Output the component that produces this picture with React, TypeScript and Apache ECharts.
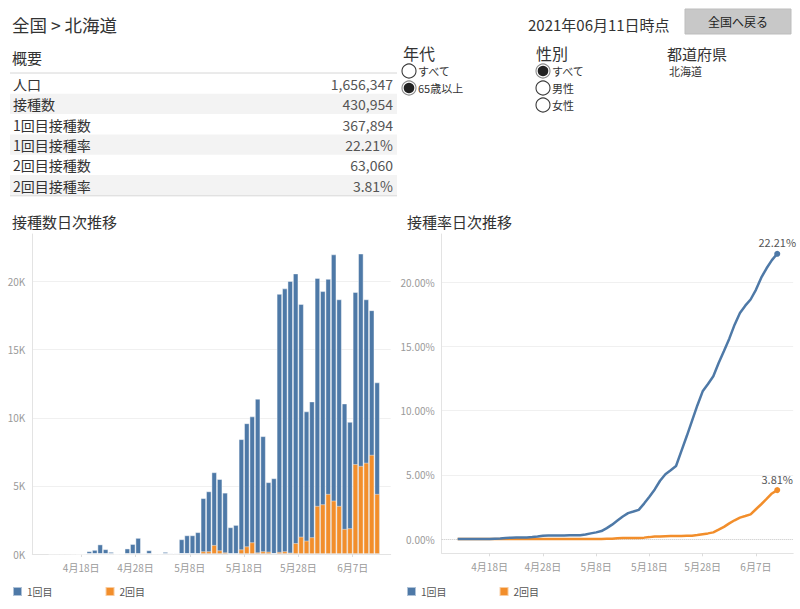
import React, { useEffect, useRef } from 'react';
import * as echarts from 'echarts';

// ---------------- data ----------------
const dates = [
  '2021-04-12','2021-04-13','2021-04-14','2021-04-15','2021-04-16','2021-04-17','2021-04-18',
  '2021-04-19','2021-04-20','2021-04-21','2021-04-22','2021-04-23','2021-04-24','2021-04-25',
  '2021-04-26','2021-04-27','2021-04-28','2021-04-29','2021-04-30','2021-05-01','2021-05-02',
  '2021-05-03','2021-05-04','2021-05-05','2021-05-06','2021-05-07','2021-05-08','2021-05-09',
  '2021-05-10','2021-05-11','2021-05-12','2021-05-13','2021-05-14','2021-05-15','2021-05-16',
  '2021-05-17','2021-05-18','2021-05-19','2021-05-20','2021-05-21','2021-05-22','2021-05-23',
  '2021-05-24','2021-05-25','2021-05-26','2021-05-27','2021-05-28','2021-05-29','2021-05-30',
  '2021-05-31','2021-06-01','2021-06-02','2021-06-03','2021-06-04','2021-06-05','2021-06-06',
  '2021-06-07','2021-06-08','2021-06-09','2021-06-10','2021-06-11',
];

// daily first doses (1回目)
const dose1Daily = [
  50, 60, 60, 60, 20, 0, 0,
  200, 300, 700, 350, 150, 0, 0,
  400, 730, 1180, 70, 270, 20, 20,
  150, 70, 70, 1020, 1340, 1340, 1580,
  3900, 4400, 5340, 5230, 4380, 1960, 2130,
  8090, 9040, 9240, 11280, 8450, 5100, 5510,
  18950, 19300, 19950, 19800, 17090, 9490, 9970,
  16740, 15650, 15790, 18080, 15170, 9210, 7810,
  12640, 15590, 12000, 10620, 8190,
];

// daily second doses (2回目)
const dose2Daily = [
  0, 0, 0, 0, 0, 0, 0,
  0, 0, 0, 0, 0, 0, 0,
  0, 0, 0, 0, 0, 0, 0,
  0, 0, 0, 60, 30, 30, 20,
  200, 200, 660, 270, 120, 0, 0,
  340, 560, 860, 120, 200, 170, 50,
  150, 200, 100, 800, 1270, 980, 1230,
  3530, 3650, 4410, 3920, 3530, 1840, 1890,
  6600, 6470, 6700, 7280, 4410,
];

// cumulative rate (%) 1回目
const rate1Cum = [
  0.00, 0.01, 0.01, 0.01, 0.01, 0.01, 0.01,
  0.03, 0.05, 0.09, 0.11, 0.12, 0.12, 0.12,
  0.15, 0.19, 0.26, 0.27, 0.28, 0.28, 0.28,
  0.29, 0.29, 0.30, 0.35, 0.44, 0.52, 0.62,
  0.85, 1.12, 1.44, 1.76, 2.02, 2.14, 2.27,
  2.76, 3.30, 3.86, 4.54, 5.05, 5.36, 5.69,
  6.84, 8.00, 9.20, 10.40, 11.50, 12.07, 12.67,
  13.70, 14.64, 15.60, 16.69, 17.60, 18.17, 18.65,
  19.40, 20.35, 21.08, 21.72, 22.21,
];

// cumulative rate (%) 2回目
const rate2Cum = [
  0.00, 0.00, 0.00, 0.00, 0.00, 0.00, 0.00,
  0.00, 0.00, 0.00, 0.00, 0.00, 0.00, 0.00,
  0.00, 0.00, 0.00, 0.00, 0.00, 0.00, 0.00,
  0.00, 0.00, 0.00, 0.00, 0.01, 0.01, 0.01,
  0.02, 0.03, 0.07, 0.08, 0.09, 0.09, 0.09,
  0.11, 0.15, 0.20, 0.20, 0.22, 0.23, 0.23,
  0.24, 0.25, 0.26, 0.31, 0.38, 0.44, 0.52,
  0.73, 0.95, 1.22, 1.46, 1.67, 1.79, 1.92,
  2.32, 2.71, 3.12, 3.55, 3.81,
];

const xTickDates = ['2021-04-18', '2021-04-28', '2021-05-08', '2021-05-18', '2021-05-28', '2021-06-07'];
const axisStartDate = '2021-04-09';
const axisEndDate = '2021-06-14';
const countTicks = [0, 5000, 10000, 15000, 20000];
const rateTicks = [0, 5, 10, 15, 20];
const rateGridTicks = [5, 10, 15, 20];

const summaryLabels = ['人口', '接種数', '1回目接種数', '1回目接種率', '2回目接種数', '2回目接種率'];
const summaryValues = ['1,656,347', '430,954', '367,894', '22.21%', '63,060', '3.81%'];

const seriesNames = ['1回目', '2回目'];

// ---------------- helpers ----------------
const FONT = '"Noto Sans CJK JP", "Noto Sans", sans-serif';
const BLUE = '#4e79a7';
const ORANGE = '#f28e2b';
const HALF_DAY = 12 * 3600 * 1000;

function ts(s: string): number {
  const [y, m, d] = s.split('-').map(Number);
  return new Date(y, m - 1, d).getTime();
}
function fmtDate(v: number): string {
  const d = new Date(v);
  return `${d.getMonth() + 1}月${d.getDate()}日`;
}

function txt(x: number, y: number, text: string, size: number, fill: string, align = 'left') {
  return {
    type: 'text',
    x,
    y,
    silent: true,
    style: { text, fontSize: size, fontFamily: FONT, fill, align, verticalAlign: 'middle' },
  };
}

function radio(cx: number, cy: number, selected: boolean) {
  const els: any[] = [
    {
      type: 'circle',
      shape: { cx, cy, r: 7 },
      silent: true,
      style: { fill: '#fff', stroke: selected ? '#8a8a8a' : '#3a3a3a', lineWidth: 1.1 },
    },
  ];
  if (selected) {
    els.push({ type: 'circle', shape: { cx, cy, r: 5.3 }, silent: true, style: { fill: '#222' } });
  }
  return els;
}

function buildGraphics() {
  const g: any[] = [];
  // header
  g.push(txt(12, 24, '全国 > 北海道', 17.5, '#333'));
  g.push(txt(528, 24, '2021年06月11日時点', 15, '#333'));
  g.push({
    type: 'rect',
    shape: { x: 685, y: 9, width: 106, height: 25 },
    silent: true,
    style: { fill: '#c8c8c8', stroke: '#bdbdbd', lineWidth: 1 },
  });
  g.push(txt(738, 21.5, '全国へ戻る', 12, '#222', 'center'));

  // summary table
  g.push(txt(12, 57, '概要', 15, '#333'));
  const rowTop = 73.5;
  const rowH = 20.3;
  summaryLabels.forEach((lab, i) => {
    const y0 = rowTop + i * rowH;
    if (i % 2 === 1) {
      g.push({
        type: 'rect',
        shape: { x: 10, y: y0, width: 387, height: rowH },
        silent: true,
        style: { fill: '#f3f3f3' },
      });
    }
    g.push(txt(13, y0 + rowH / 2 + 0.5, lab, 14, '#333'));
    g.push(txt(393, y0 + rowH / 2 + 0.5, summaryValues[i], 14, '#555', 'right'));
  });
  g.push({
    type: 'line',
    shape: { x1: 10, y1: 73, x2: 397, y2: 73 },
    silent: true,
    style: { stroke: '#d6d6d6', lineWidth: 1 },
  });
  g.push({
    type: 'line',
    shape: { x1: 10, y1: rowTop + 6 * rowH + 0.5, x2: 397, y2: rowTop + 6 * rowH + 0.5 },
    silent: true,
    style: { stroke: '#d6d6d6', lineWidth: 1 },
  });

  // filters
  g.push(txt(403, 53, '年代', 16, '#333'));
  g.push(...radio(409, 71, false));
  g.push(txt(418, 71, 'すべて', 11, '#333'));
  g.push(...radio(409, 88, true));
  g.push(txt(418, 88, '65歳以上', 11, '#333'));

  g.push(txt(536, 53, '性別', 16, '#333'));
  g.push(...radio(543, 71, true));
  g.push(txt(552, 71, 'すべて', 11, '#333'));
  g.push(...radio(543, 88, false));
  g.push(txt(552, 88, '男性', 11, '#333'));
  g.push(...radio(543, 105, false));
  g.push(txt(552, 105, '女性', 11, '#333'));

  g.push(txt(667, 53, '都道府県', 15, '#333'));
  g.push(txt(669, 71, '北海道', 11, '#333'));

  // chart titles
  g.push(txt(12, 221, '接種数日次推移', 15, '#333'));
  g.push(txt(407, 221, '接種率日次推移', 15, '#333'));
  return g;
}

function buildOption() {
  const xTicks = xTickDates.map(ts);
  const n = dates.length;
  const labelStyle = { color: '#9a9a9a', fontSize: 10, fontFamily: FONT };

  const xAxisCommon = (gridIndex: number) => ({
    type: 'value',
    gridIndex,
    min: ts(axisStartDate),
    max: ts(axisEndDate),
    axisLine: { show: true, onZero: false, lineStyle: { color: '#e3e3e3', width: 1 } },
    axisTick: { show: true, customValues: xTicks, length: 3, lineStyle: { color: '#dcdcdc' } },
    axisLabel: { ...labelStyle, customValues: xTicks, formatter: (v: number) => fmtDate(v), margin: 8 },
    splitLine: { show: false },
  });

  const lastLabel = (v: number) => ({
    show: true,
    position: 'top',
    distance: 3,
    formatter: v.toFixed(2) + '%',
    fontSize: 11,
    color: '#555',
    fontFamily: FONT,
  });

  const lineData = (arr: number[]) =>
    dates.map((d, i) =>
      i === n - 1
        ? { value: [ts(d), arr[i]], label: lastLabel(arr[i]) }
        : { value: [ts(d), arr[i]] }
    );

  // stacked appearance: the 1回目 bar is drawn from 0 up to the day's total,
  // and the 2回目 bar (0 .. dose2) is drawn on top of it in the same slot.
  const barStyle = (color: string) => ({
    color,
    borderColor: 'rgba(255,255,255,0.55)',
    borderWidth: 0.8,
  });

  return {
    animation: false,
    backgroundColor: '#ffffff',
    textStyle: { fontFamily: FONT },
    graphic: buildGraphics(),
    grid: [
      { left: 32.3, right: 409.3, top: 234, bottom: 55, containLabel: false },
      { left: 441.7, right: 6.8, top: 234, bottom: 55.7, containLabel: false },
    ],
    legend: [0, 1].map((k) => ({
      left: k === 0 ? 12 : 406,
      top: 586,
      padding: 0,
      data: seriesNames,
      icon: 'rect',
      itemWidth: 9,
      itemHeight: 9,
      itemGap: 52,
      selectedMode: false,
      textStyle: { fontSize: 10, color: '#555', fontFamily: FONT },
    })),
    xAxis: [xAxisCommon(0), xAxisCommon(1)],
    yAxis: [
      {
        type: 'value',
        gridIndex: 0,
        min: 0,
        max: 23500,
        axisLine: { show: true, lineStyle: { color: '#e3e3e3' } },
        axisTick: { show: false, customValues: countTicks },
        axisLabel: { ...labelStyle, customValues: countTicks, formatter: (v: number) => v / 1000 + 'K', margin: 7 },
        splitLine: { show: true, lineStyle: { color: '#f0f0f0', width: 1 } },
      },
      {
        type: 'value',
        gridIndex: 1,
        min: -1.11,
        max: 23.75,
        axisLine: { show: true, lineStyle: { color: '#e3e3e3' } },
        axisTick: { show: false, customValues: rateGridTicks },
        axisLabel: { ...labelStyle, customValues: rateTicks, formatter: (v: number) => v.toFixed(2) + '%', margin: 7 },
        splitLine: { show: true, lineStyle: { color: '#f0f0f0', width: 1 } },
      },
    ],
    series: [
      {
        name: seriesNames[0],
        type: 'bar',
        xAxisIndex: 0,
        yAxisIndex: 0,
        barWidth: 5.4,
        barGap: '-100%',
        itemStyle: barStyle(BLUE),
        data: dates.map((d, i) => [ts(d) + HALF_DAY, dose1Daily[i] + dose2Daily[i]]),
        z: 2,
      },
      {
        name: seriesNames[1],
        type: 'bar',
        xAxisIndex: 0,
        yAxisIndex: 0,
        barWidth: 5.4,
        barGap: '-100%',
        itemStyle: barStyle(ORANGE),
        data: dates.map((d, i) => [ts(d) + HALF_DAY, dose2Daily[i]]),
        z: 3,
      },
      {
        name: seriesNames[1],
        type: 'line',
        xAxisIndex: 1,
        yAxisIndex: 1,
        symbol: 'circle',
        showSymbol: true,
        symbolSize: (_v: any, p: any) => (p.dataIndex === n - 1 ? 6 : 0),
        itemStyle: { color: ORANGE },
        lineStyle: { color: ORANGE, width: 2.5 },
        data: lineData(rate2Cum),
        z: 3,
      },
      {
        name: seriesNames[0],
        type: 'line',
        xAxisIndex: 1,
        yAxisIndex: 1,
        symbol: 'circle',
        showSymbol: true,
        symbolSize: (_v: any, p: any) => (p.dataIndex === n - 1 ? 6 : 0),
        itemStyle: { color: BLUE },
        lineStyle: { color: BLUE, width: 2.5 },
        data: lineData(rate1Cum),
        z: 4,
        markLine: {
          silent: true,
          symbol: 'none',
          label: { show: false },
          lineStyle: { color: '#c4c4c4', type: 'dotted', width: 1 },
          data: [{ yAxis: 0 }],
          z: 1,
        },
      },
    ],
  };
}

export default function App() {
  const ref = useRef<HTMLDivElement>(null);
  useEffect(() => {
    if (!ref.current) return;
    const chart = echarts.init(ref.current, undefined, { renderer: 'svg' });
    chart.setOption(buildOption() as any);
    return () => chart.dispose();
  }, []);
  return (
    <div
      ref={ref}
      style={{ position: 'fixed', left: 0, top: 0, width: 800, height: 609, background: '#fff' }}
    />
  );
}
